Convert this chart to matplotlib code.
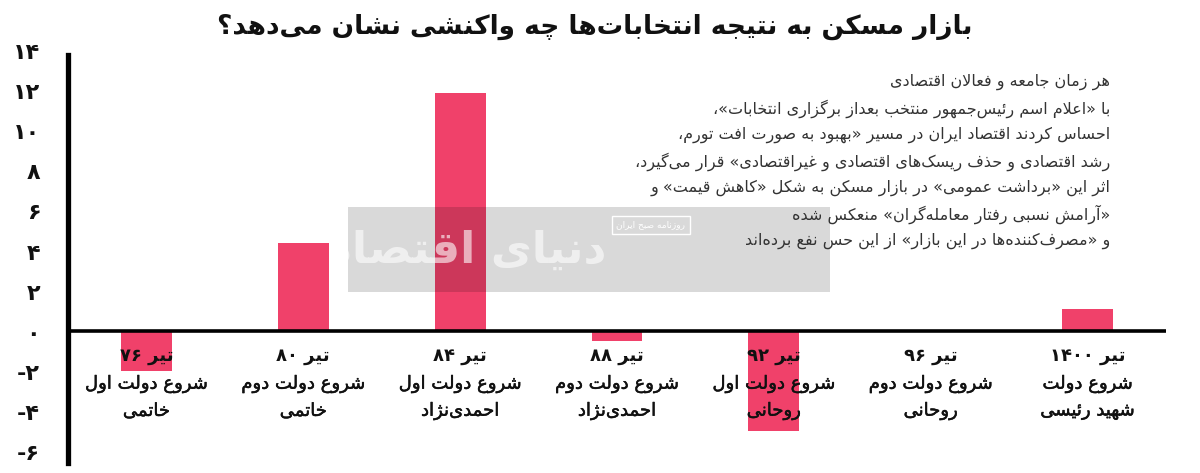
import re
import matplotlib
matplotlib.use('Agg')
import matplotlib.pyplot as plt
import matplotlib.patheffects as pe
from matplotlib.patches import Rectangle
from matplotlib.transforms import blended_transform_factory

# ---------------- data ----------------
title = 'بازار مسکن به نتیجه انتخابات\u200cها چه واکنشی نشان می\u200cدهد؟'
periods = ['تیر ۷۶', 'تیر ۸۰', 'تیر ۸۴', 'تیر ۸۸', 'تیر ۹۲', 'تیر ۹۶', 'تیر ۱۴۰۰']
events = ['شروع دولت اول', 'شروع دولت دوم', 'شروع دولت اول', 'شروع دولت دوم',
          'شروع دولت اول', 'شروع دولت دوم', 'شروع دولت']
presidents = ['خاتمی', 'خاتمی', 'احمدی\u200cنژاد', 'احمدی\u200cنژاد', 'روحانی', 'روحانی', 'شهید رئیسی']
values = [-2.0, 4.4, 11.9, -0.5, -5.0, 0.0, 1.1]
yticks = [-6, -4, -2, 0, 2, 4, 6, 8, 10, 12, 14]
ytick_labels = ['-۶', '-۴', '-۲', '۰', '۲', '۴', '۶', '۸', '۱۰', '۱۲', '۱۴']
note_lines = [
    'هر زمان جامعه و فعالان اقتصادی',
    'با «اعلام اسم رئیس\u200cجمهور منتخب بعداز برگزاری انتخابات»،',
    'احساس کردند اقتصاد ایران در مسیر «بهبود به صورت افت تورم،',
    'رشد اقتصادی و حذف ریسک\u200cهای اقتصادی و غیراقتصادی» قرار می\u200cگیرد،',
    'اثر این «برداشت عمومی» در بازار مسکن به شکل «کاهش قیمت» و',
    '«آرامش نسبی رفتار معامله\u200cگران» منعکس شده',
    'و «مصرف\u200cکننده\u200cها در این بازار» از این حس نفع برده\u200cاند',
]
watermark = 'دنیای اقتصاد'
logo = 'روزنامه صبح ایران'

# ---------------- minimal Arabic-script shaping + RTL ordering ----------------
F = {
    '\u0621': ('\uFE80', None, None, None),
    '\u0622': ('\uFE81', '\uFE82', None, None),
    '\u0623': ('\uFE83', '\uFE84', None, None),
    '\u0624': ('\uFE85', '\uFE86', None, None),
    '\u0625': ('\uFE87', '\uFE88', None, None),
    '\u0626': ('\uFE89', '\uFE8A', '\uFE8B', '\uFE8C'),
    '\u0627': ('\uFE8D', '\uFE8E', None, None),
    '\u0628': ('\uFE8F', '\uFE90', '\uFE91', '\uFE92'),
    '\u0629': ('\uFE93', '\uFE94', None, None),
    '\u062A': ('\uFE95', '\uFE96', '\uFE97', '\uFE98'),
    '\u062B': ('\uFE99', '\uFE9A', '\uFE9B', '\uFE9C'),
    '\u062C': ('\uFE9D', '\uFE9E', '\uFE9F', '\uFEA0'),
    '\u062D': ('\uFEA1', '\uFEA2', '\uFEA3', '\uFEA4'),
    '\u062E': ('\uFEA5', '\uFEA6', '\uFEA7', '\uFEA8'),
    '\u062F': ('\uFEA9', '\uFEAA', None, None),
    '\u0630': ('\uFEAB', '\uFEAC', None, None),
    '\u0631': ('\uFEAD', '\uFEAE', None, None),
    '\u0632': ('\uFEAF', '\uFEB0', None, None),
    '\u0633': ('\uFEB1', '\uFEB2', '\uFEB3', '\uFEB4'),
    '\u0634': ('\uFEB5', '\uFEB6', '\uFEB7', '\uFEB8'),
    '\u0635': ('\uFEB9', '\uFEBA', '\uFEBB', '\uFEBC'),
    '\u0636': ('\uFEBD', '\uFEBE', '\uFEBF', '\uFEC0'),
    '\u0637': ('\uFEC1', '\uFEC2', '\uFEC3', '\uFEC4'),
    '\u0638': ('\uFEC5', '\uFEC6', '\uFEC7', '\uFEC8'),
    '\u0639': ('\uFEC9', '\uFECA', '\uFECB', '\uFECC'),
    '\u063A': ('\uFECD', '\uFECE', '\uFECF', '\uFED0'),
    '\u0641': ('\uFED1', '\uFED2', '\uFED3', '\uFED4'),
    '\u0642': ('\uFED5', '\uFED6', '\uFED7', '\uFED8'),
    '\u0643': ('\uFED9', '\uFEDA', '\uFEDB', '\uFEDC'),
    '\u0644': ('\uFEDD', '\uFEDE', '\uFEDF', '\uFEE0'),
    '\u0645': ('\uFEE1', '\uFEE2', '\uFEE3', '\uFEE4'),
    '\u0646': ('\uFEE5', '\uFEE6', '\uFEE7', '\uFEE8'),
    '\u0647': ('\uFEE9', '\uFEEA', '\uFEEB', '\uFEEC'),
    '\u0648': ('\uFEED', '\uFEEE', None, None),
    '\u0649': ('\uFEEF', '\uFEF0', None, None),
    '\u064A': ('\uFEF1', '\uFEF2', '\uFEF3', '\uFEF4'),
    '\u067E': ('\uFB56', '\uFB57', '\uFB58', '\uFB59'),
    '\u0686': ('\uFB7A', '\uFB7B', '\uFB7C', '\uFB7D'),
    '\u0698': ('\uFB8A', '\uFB8B', None, None),
    '\u06A9': ('\uFB8E', '\uFB8F', '\uFB90', '\uFB91'),
    '\u06AF': ('\uFB92', '\uFB93', '\uFB94', '\uFB95'),
    '\u06CC': ('\uFBFC', '\uFBFD', '\uFBFE', '\uFBFF'),
}
LAMALEF = {'\u0622': ('\uFEF5', '\uFEF6'), '\u0623': ('\uFEF7', '\uFEF8'),
           '\u0625': ('\uFEF9', '\uFEFA'), '\u0627': ('\uFEFB', '\uFEFC')}
MIRROR = {'«': '»', '»': '«', '(': ')', ')': '('}


def shape(s):
    s = s.replace('\u064A', '\u06CC').replace('\u0643', '\u06A9')
    out = []
    n = len(s)
    i = 0
    while i < n:
        c = s[i]
        if c not in F:
            if c != '\u200c':
                out.append(c)
            i += 1
            continue
        prev = s[i - 1] if i > 0 else ''
        pj = prev in F and F[prev][2] is not None
        if c == '\u0644' and i + 1 < n and s[i + 1] in LAMALEF:
            out.append(LAMALEF[s[i + 1]][1 if pj else 0])
            i += 2
            continue
        nxt = s[i + 1] if i + 1 < n else ''
        dual = F[c][2] is not None
        nj = dual and nxt in F
        iso, fin, ini, med = F[c]
        if pj and nj:
            out.append(med)
        elif pj:
            out.append(fin)
        elif nj:
            out.append(ini)
        else:
            out.append(iso)
        i += 1
    return ''.join(out)


def fa(s):
    t = shape(s)
    toks = re.findall(r'[0-9\u06F0-\u06F9\u0660-\u0669]+|.', t)
    res = []
    for tok in reversed(toks):
        res.append(MIRROR.get(tok, tok))
    return ''.join(res)


# ---------------- figure ----------------
plt.rcParams['font.family'] = ['DejaVu Sans']
W, H = 1200, 473
fig = plt.figure(figsize=(12, 4.73), dpi=100)
fig.patch.set_facecolor('white')

px_per_unit, zero_px = 20.0, 331.5
ylo, yhi = -6.55, 14.1
bot_px = zero_px - ylo * px_per_unit
top_px = zero_px - yhi * px_per_unit
ax = fig.add_axes([68 / W, 1 - bot_px / H, 1098 / W, (bot_px - top_px) / H])
xs = list(range(len(values)))
ax.bar(xs, values, width=0.325, color='#F0416A', zorder=2)
ax.axhline(0, color='black', lw=2.6, zorder=3)
ax.set_xlim(-0.5, 6.5)
ax.set_ylim(ylo, yhi)
for s in ['top', 'right', 'bottom']:
    ax.spines[s].set_visible(False)
ax.spines['left'].set_linewidth(3.8)
ax.spines['left'].set_bounds(ylo, 13.8)
ax.set_xticks([])
ax.set_yticks(yticks)
ax.set_yticklabels(ytick_labels, fontsize=16, fontweight='bold', color='#111111')
ax.tick_params(axis='y', length=0, pad=20)
ax.set_facecolor('none')

trans = blended_transform_factory(ax.transData, fig.transFigure)
thick = [pe.withStroke(linewidth=0.35, foreground='#111111')]
for i in xs:
    ax.text(i, 1 - 356 / H, fa(periods[i]), ha='center', va='center', fontsize=13,
            fontweight='bold', transform=trans, zorder=5, color='#111111')
    ax.text(i, 1 - 384 / H, fa(events[i]), ha='center', va='center', fontsize=13,
            transform=trans, zorder=5, color='#111111', path_effects=thick)
    ax.text(i, 1 - 411 / H, fa(presidents[i]), ha='center', va='center', fontsize=13,
            transform=trans, zorder=5, color='#111111', path_effects=thick)

# watermark band
band = Rectangle((348 / W, 1 - 292 / H), (830 - 348) / W, 85 / H, transform=fig.transFigure,
                 facecolor='black', alpha=0.15, edgecolor='none', zorder=1)
fig.patches.append(band)
fig.text(468 / W, 1 - 250 / H, fa(watermark), ha='center', va='center', fontsize=32,
         fontweight='bold', color='white', alpha=0.6, zorder=2)
fig.text(651 / W, 1 - 225 / H, fa(logo), ha='center', va='center', fontsize=6.5,
         color='white', zorder=2,
         bbox=dict(facecolor='none', edgecolor='white', lw=1, pad=3))

# annotation
for j, line in enumerate(note_lines):
    fig.text(1110 / W, 1 - (82 + 26.5 * j) / H, fa(line), ha='right', va='center',
             fontsize=11.5, color='#333333', zorder=3)

fig.text(595 / W, 1 - 27 / H, fa(title), ha='center', va='center', fontsize=19,
         fontweight='bold', color='#111111')

fig.savefig('out.png', dpi=100, facecolor='white')
